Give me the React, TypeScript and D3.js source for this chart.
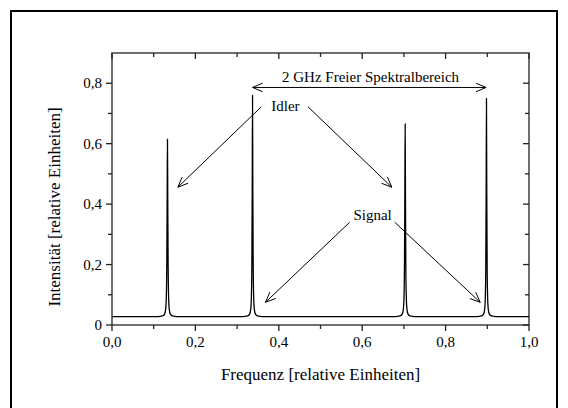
import { useEffect, useRef } from 'react';
import * as d3 from 'd3';

// Spectrum: [frequency, intensity]
const spectrum: [number, number][] = [
  [0.0, 0.028], [0.11, 0.028], [0.121, 0.03], [0.126, 0.036], [0.1285, 0.05], [0.1302, 0.09],
  [0.1314, 0.2], [0.1323, 0.42], [0.133, 0.615], [0.1337, 0.42], [0.1346, 0.2], [0.1358, 0.09],
  [0.1375, 0.05], [0.14, 0.036], [0.145, 0.03], [0.156, 0.028],
  [0.314, 0.028], [0.325, 0.03], [0.33, 0.036], [0.3325, 0.05], [0.3342, 0.09],
  [0.3354, 0.2], [0.3363, 0.45], [0.337, 0.76], [0.3377, 0.45], [0.3386, 0.2], [0.3398, 0.09],
  [0.3415, 0.05], [0.344, 0.036], [0.349, 0.03], [0.36, 0.028],
  [0.68, 0.028], [0.691, 0.03], [0.696, 0.036], [0.6985, 0.05], [0.7002, 0.09],
  [0.7014, 0.2], [0.7023, 0.44], [0.703, 0.665], [0.7037, 0.44], [0.7046, 0.2], [0.7058, 0.09],
  [0.7075, 0.05], [0.71, 0.036], [0.715, 0.03], [0.726, 0.028],
  [0.875, 0.028], [0.886, 0.03], [0.891, 0.036], [0.8935, 0.05], [0.8952, 0.09],
  [0.8964, 0.2], [0.8973, 0.45], [0.898, 0.75], [0.8987, 0.45], [0.8996, 0.2], [0.9008, 0.09],
  [0.9025, 0.05], [0.905, 0.036], [0.91, 0.03], [0.921, 0.028],
  [1.0, 0.028],
];

const xMajor = [0, 0.2, 0.4, 0.6, 0.8, 1.0];
const xMinor = [0.1, 0.3, 0.5, 0.7, 0.9];
const xTickLabels = ['0,0', '0,2', '0,4', '0,6', '0,8', '1,0'];
const yMajor = [0, 0.2, 0.4, 0.6, 0.8];
const yMinor = [0.1, 0.3, 0.5, 0.7];
const yTickLabels = ['0', '0,2', '0,4', '0,6', '0,8'];

// annotation arrows in data units: [fromX, fromY, toX, toY]
const arrows: [number, number, number, number][] = [
  [0.358, 0.722, 0.158, 0.456],
  [0.47, 0.722, 0.671, 0.456],
  [0.57, 0.34, 0.368, 0.075],
  [0.678, 0.34, 0.883, 0.075],
];
const rangeArrow = { from: 0.337, to: 0.897, y: 0.786 };
const notes = [
  { text: '2 GHz Freier Spektralbereich', x: 0.62, y: 0.805 },
  { text: 'Idler', x: 0.416, y: 0.707 },
  { text: 'Signal', x: 0.625, y: 0.346 },
];

const W = 568;
const H = 408;
const margin = { top: 53, right: 39, bottom: 83, left: 112 };
const FONT = '"Liberation Serif", "Times New Roman", serif';

function head(x1: number, y1: number, x2: number, y2: number, len = 11, ang = 0.4) {
  const a = Math.atan2(y2 - y1, x2 - x1);
  const p1 = [x2 - len * Math.cos(a - ang), y2 - len * Math.sin(a - ang)];
  const p2 = [x2 - len * Math.cos(a + ang), y2 - len * Math.sin(a + ang)];
  return `M${p1[0]},${p1[1]}L${x2},${y2}L${p2[0]},${p2[1]}`;
}

export default function App() {
  const svgRef = useRef<SVGSVGElement>(null);

  useEffect(() => {
    if (!svgRef.current) return;
    const svg = d3.select(svgRef.current);
    svg.selectAll('*').remove();

    const x = d3.scaleLinear().domain([0, 1]).range([margin.left, W - margin.right]);
    const y = d3.scaleLinear().domain([0, 0.9]).range([H - margin.bottom, margin.top]);
    const x0 = x(0), x1 = x(1), y0 = y(0), yTop = y(0.9);

    // outer frame (bottom edge runs off the page)
    svg.append('rect')
      .attr('x', 11).attr('y', 11).attr('width', 546).attr('height', 420)
      .attr('fill', 'none').attr('stroke', '#000').attr('stroke-width', 2);

    const ax = svg.append('g').attr('stroke', '#222').attr('stroke-width', 1.3);

    // ticks: bottom/left outward, top/right inward
    const tick = (x1_: number, y1_: number, x2_: number, y2_: number) =>
      ax.append('line').attr('x1', x1_).attr('y1', y1_).attr('x2', x2_).attr('y2', y2_);
    xMajor.forEach((v) => { tick(x(v), y0, x(v), y0 + 6); tick(x(v), yTop, x(v), yTop + 6); });
    xMinor.forEach((v) => { tick(x(v), y0, x(v), y0 + 4); tick(x(v), yTop, x(v), yTop + 4); });
    yMajor.forEach((v) => { tick(x0 - 6, y(v), x0, y(v)); tick(x1 - 6, y(v), x1, y(v)); });
    yMinor.forEach((v) => { tick(x0 - 4, y(v), x0, y(v)); tick(x1 - 4, y(v), x1, y(v)); });

    ax.append('rect')
      .attr('x', x0).attr('y', yTop).attr('width', x1 - x0).attr('height', y0 - yTop)
      .attr('fill', 'none');

    const labels = svg.append('g').attr('font-family', FONT).attr('fill', '#000');
    xMajor.forEach((v, i) => {
      labels.append('text').attr('x', x(v)).attr('y', y0 + 22)
        .attr('text-anchor', 'middle').attr('font-size', 15).text(xTickLabels[i]);
    });
    yMajor.forEach((v, i) => {
      labels.append('text').attr('x', x0 - 10).attr('y', y(v) + 5)
        .attr('text-anchor', 'end').attr('font-size', 15).text(yTickLabels[i]);
    });
    labels.append('text').attr('x', (x0 + x1) / 2).attr('y', 380)
      .attr('text-anchor', 'middle').attr('font-size', 17).text('Frequenz [relative Einheiten]');
    labels.append('text')
      .attr('transform', `translate(60,${(y0 + yTop) / 2 + 18}) rotate(-90)`)
      .attr('text-anchor', 'middle').attr('font-size', 17).text('Intensität [relative Einheiten]');

    // spectrum
    const line = d3.line<[number, number]>()
      .x((d) => x(d[0])).y((d) => y(d[1]))
      .curve(d3.curveMonotoneX);
    svg.append('path').datum(spectrum)
      .attr('fill', 'none').attr('stroke', '#000').attr('stroke-width', 1.3)
      .attr('d', line);

    // annotations
    const ann = svg.append('g').attr('stroke', '#000').attr('stroke-width', 1).attr('fill', 'none');
    arrows.forEach(([fx, fy, tx, ty]) => {
      ann.append('line').attr('x1', x(fx)).attr('y1', y(fy)).attr('x2', x(tx)).attr('y2', y(ty));
      ann.append('path').attr('d', head(x(fx), y(fy), x(tx), y(ty)));
    });
    const ra = { a: x(rangeArrow.from), b: x(rangeArrow.to), yy: y(rangeArrow.y) };
    ann.append('line').attr('x1', ra.a).attr('y1', ra.yy).attr('x2', ra.b).attr('y2', ra.yy);
    ann.append('path').attr('d', head(ra.b, ra.yy, ra.a, ra.yy));
    ann.append('path').attr('d', head(ra.a, ra.yy, ra.b, ra.yy));

    notes.forEach((n) => {
      labels.append('text').attr('x', x(n.x)).attr('y', y(n.y))
        .attr('text-anchor', 'middle').attr('font-size', 15).text(n.text);
    });
  }, []);

  return (
    <svg
      ref={svgRef}
      width={W}
      height={H}
      style={{ position: 'absolute', left: 0, top: 0, background: '#fff' }}
    />
  );
}
